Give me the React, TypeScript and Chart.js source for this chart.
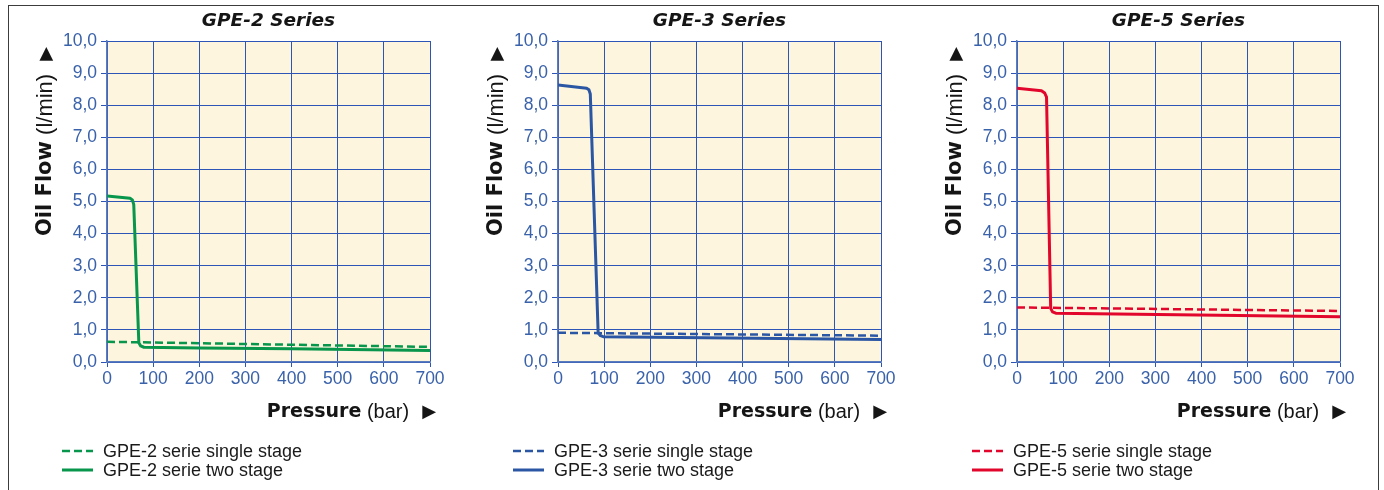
import React, { useEffect, useRef } from "react";
import { Chart, registerables } from "chart.js";

Chart.register(...registerables);

// ---- Data ----
const pressureTicks = [0, 100, 200, 300, 400, 500, 600, 700];
const flowTicks = [0, 1, 2, 3, 4, 5, 6, 7, 8, 9, 10];

const gpe2SinglePressure = [0, 700];
const gpe2SingleFlow = [0.63, 0.47];
const gpe2TwoPressure = [0, 50, 55, 58, 69, 73, 80, 200, 400, 700];
const gpe2TwoFlow = [5.17, 5.1, 5.05, 4.9, 0.6, 0.5, 0.46, 0.44, 0.41, 0.36];

const gpe3SinglePressure = [0, 700];
const gpe3SingleFlow = [0.91, 0.82];
const gpe3TwoPressure = [0, 62, 67, 70, 87, 92, 98, 700];
const gpe3TwoFlow = [8.63, 8.53, 8.48, 8.35, 0.9, 0.82, 0.79, 0.7];

const gpe5SinglePressure = [0, 700];
const gpe5SingleFlow = [1.7, 1.59];
const gpe5TwoPressure = [0, 53, 60, 64, 73, 77, 84, 700];
const gpe5TwoFlow = [8.53, 8.45, 8.38, 8.25, 1.67, 1.56, 1.52, 1.41];

const titles = ["GPE-2 Series", "GPE-3 Series", "GPE-5 Series"];
const singleLabels = ["GPE-2 serie single stage", "GPE-3 serie single stage", "GPE-5 serie single stage"];
const twoLabels = ["GPE-2 serie two stage", "GPE-3 serie two stage", "GPE-5 serie two stage"];
const seriesColors = ["#07964c", "#2b56a3", "#e2062c"];

const panelData = [
  { sp: gpe2SinglePressure, sf: gpe2SingleFlow, tp: gpe2TwoPressure, tf: gpe2TwoFlow },
  { sp: gpe3SinglePressure, sf: gpe3SingleFlow, tp: gpe3TwoPressure, tf: gpe3TwoFlow },
  { sp: gpe5SinglePressure, sf: gpe5SingleFlow, tp: gpe5TwoPressure, tf: gpe5TwoFlow },
];

// ---- Styles ----
const panelLefts = [7, 458, 917];
const CW = 440;
const CH = 490;
const gridColor = "#2d55b8";
const tickColor = "#3a62aa";
const plotBg = "#fdf5dd";
const textColor = "#151515";

const toPoints = (xs: number[], ys: number[]) => xs.map((x, i) => ({ x, y: ys[i] }));

function measureParts(
  ctx: CanvasRenderingContext2D,
  parts: { t: string; f: string; gap?: number }[]
) {
  let total = 0;
  const widths = parts.map((p) => {
    ctx.font = p.f;
    const w = ctx.measureText(p.t).width + (p.gap || 0);
    total += w;
    return w;
  });
  return { total, widths };
}

function makeTextPlugin(i: number) {
  return {
    id: "panelText" + i,
    beforeDraw(chart: any) {
      const { ctx, chartArea: a } = chart;
      ctx.save();
      ctx.fillStyle = plotBg;
      ctx.fillRect(a.left, a.top, a.right - a.left, a.bottom - a.top);
      ctx.restore();
    },
    afterDraw(chart: any) {
      const { ctx, chartArea: a } = chart;
      const color = seriesColors[i];
      ctx.save();
      ctx.fillStyle = textColor;
      ctx.textBaseline = "middle";

      // Title
      ctx.font = 'italic bold 18.5px "DejaVu Sans"';
      ctx.textAlign = "center";
      ctx.fillText(titles[i], (a.left + a.right) / 2, 21);

      ctx.textAlign = "left";
      // X axis title
      const xParts = [
        { t: "Pressure", f: 'bold 19px "DejaVu Sans"' },
        { t: " (bar)", f: '20px "Liberation Sans"', gap: 13 },
        { t: "\u25B6", f: '18px "DejaVu Sans"' },
      ];
      const xm = measureParts(ctx, xParts);
      let x = a.right + 6 - xm.total;
      xParts.forEach((p, k) => {
        ctx.font = p.f;
        ctx.fillText(p.t, x, a.bottom + 50);
        x += xm.widths[k];
      });

      // Y axis title (rotated)
      const yParts = [
        { t: "Oil Flow", f: 'bold 21px "DejaVu Sans"' },
        { t: " (l/min)", f: '22px "Liberation Sans"', gap: 13 },
        { t: "\u25B6", f: '18px "DejaVu Sans"' },
      ];
      const ym = measureParts(ctx, yParts);
      ctx.save();
      ctx.translate(a.left - 61, a.top + 6);
      ctx.rotate(-Math.PI / 2);
      let yx = -ym.total;
      yParts.forEach((p, k) => {
        ctx.font = p.f;
        ctx.fillText(p.t, yx, 0);
        yx += ym.widths[k];
      });
      ctx.restore();

      // Legend
      const rows = [
        { label: singleLabels[i], dash: [8, 4], lw: 2.5 },
        { label: twoLabels[i], dash: [], lw: 3 },
      ];
      rows.forEach((r, k) => {
        const y = a.bottom + 89 + k * 19;
        ctx.save();
        ctx.strokeStyle = color;
        ctx.lineWidth = r.lw;
        ctx.setLineDash(r.dash);
        ctx.beginPath();
        ctx.moveTo(a.left - 45, y);
        ctx.lineTo(a.left - 14, y);
        ctx.stroke();
        ctx.restore();
        ctx.font = '18px "Liberation Sans"';
        ctx.fillStyle = "#1a1a1a";
        ctx.fillText(r.label, a.left - 4, y + 1);
      });
      ctx.restore();
    },
  };
}

function Panel({ i }: { i: number }) {
  const ref = useRef<HTMLCanvasElement>(null);
  useEffect(() => {
    const d = panelData[i];
    const color = seriesColors[i];
    const chart = new Chart(ref.current as HTMLCanvasElement, {
      type: "line",
      data: {
        datasets: [
          {
            label: singleLabels[i],
            data: toPoints(d.sp, d.sf),
            borderColor: color,
            borderWidth: 2.5,
            borderDash: [8, 4],
            pointRadius: 0,
            tension: 0,
            fill: false,
          },
          {
            label: twoLabels[i],
            data: toPoints(d.tp, d.tf),
            borderColor: color,
            borderWidth: 3,
            borderJoinStyle: "round",
            borderCapStyle: "round",
            pointRadius: 0,
            tension: 0,
            fill: false,
          },
        ],
      },
      options: {
        animation: false,
        responsive: false,
        maintainAspectRatio: false,
        events: [],
        layout: { padding: { left: 0, right: 17, top: 41, bottom: 88 } },
        plugins: {
          legend: { display: false },
          tooltip: { enabled: false },
          title: { display: false },
        },
        scales: {
          x: {
            type: "linear",
            min: 0,
            max: 700,
            afterBuildTicks: (s: any) => {
              s.ticks = pressureTicks.map((v) => ({ value: v }));
            },
            afterFit: (s: any) => {
              s.height = 40;
            },
            grid: { color: gridColor, lineWidth: 1, tickLength: 5 },
            border: { color: "#5a7cbc", width: 1.5 },
            ticks: {
              color: tickColor,
              font: { family: '"Liberation Sans"', size: 17.5 },
              padding: 2,
              maxRotation: 0,
              autoSkip: false,
              callback: (v: any) => String(v),
            },
          },
          y: {
            type: "linear",
            min: 0,
            max: 10,
            afterBuildTicks: (s: any) => {
              s.ticks = flowTicks.map((v) => ({ value: v }));
            },
            afterFit: (s: any) => {
              s.width = 100;
            },
            grid: { color: gridColor, lineWidth: 1, tickLength: 6 },
            border: { color: "#5a7cbc", width: 1.5 },
            ticks: {
              color: tickColor,
              font: { family: '"Liberation Sans"', size: 17.5 },
              padding: 4,
              autoSkip: false,
              callback: (v: any) => Number(v).toFixed(1).replace(".", ","),
            },
          },
        },
      },
      plugins: [makeTextPlugin(i)],
    } as any);
    return () => chart.destroy();
  }, [i]);
  return (
    <canvas
      ref={ref}
      width={CW}
      height={CH}
      style={{ position: "absolute", left: panelLefts[i], top: 0, width: CW, height: CH }}
    />
  );
}

export default function App() {
  return (
    <div style={{ position: "absolute", left: 0, top: 0, width: 1384, height: 490, overflow: "hidden", background: "#fff" }}>
      <div
        style={{
          position: "absolute",
          left: 8,
          top: 5,
          width: 1371,
          height: 520,
          border: "1.5px solid #3c3c3c",
          boxSizing: "border-box",
        }}
      />
      {[0, 1, 2].map((i) => (
        <Panel key={i} i={i} />
      ))}
    </div>
  );
}
